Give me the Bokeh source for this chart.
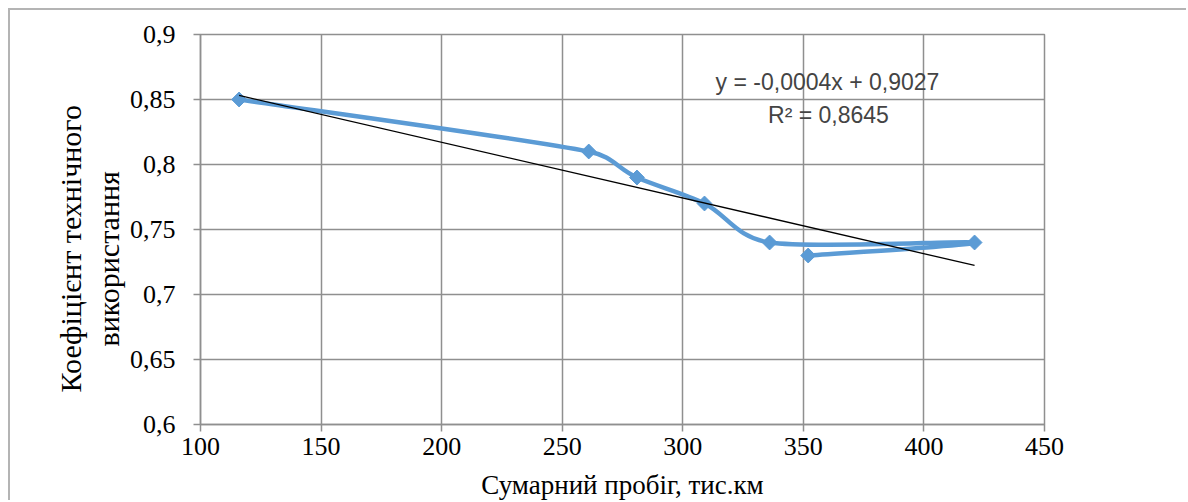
import numpy as np
from bokeh.plotting import figure
from bokeh.models import Label, Title, FixedTicker, CustomJSTickFormatter, Range1d
from bokeh.embed import file_html
from bokeh.resources import INLINE

# Total mileage (thousand km) and technical utilisation coefficient, in plotting order
mileage = [116, 261, 281, 309, 336, 421, 352]
coef = [0.85, 0.81, 0.79, 0.77, 0.74, 0.74, 0.73]

x_ticks = [100, 150, 200, 250, 300, 350, 400, 450]
y_ticks = [0.6, 0.65, 0.7, 0.75, 0.8, 0.85, 0.9]

x_title = "Сумарний пробіг, тис.км"
y_title_lines = ["Коефіцієнт технічного", "використання"]
trend_eq = "y = -0,0004x + 0,9027"
trend_r2 = "R² = 0,8645"

SERIES = "#5B9BD5"
GRID = "#8f8f8f"
SERIF = "Liberation Serif"
FRAME_W, FRAME_H = 844, 391

p = figure(width=1178, height=492, output_backend="svg", toolbar_location=None,
           x_range=Range1d(100, 450), y_range=Range1d(0.6, 0.9),
           min_border_left=190, min_border_right=144, min_border_top=24,
           min_border_bottom=77)
p.styles = {"margin-left": "8px", "margin-top": "8px",
            "border-left": "2px solid #b4b4b4", "border-top": "2px solid #b4b4b4"}
p.outline_line_color = GRID
p.outline_line_width = 1.5
p.background_fill_color = "white"
p.border_fill_color = "white"

# axes
p.xaxis.ticker = FixedTicker(ticks=x_ticks)
p.yaxis.ticker = FixedTicker(ticks=y_ticks)
comma = CustomJSTickFormatter(code="return String(Math.round(tick*100)/100).replace('.', ',');")
p.xaxis.formatter = comma
p.yaxis.formatter = comma
for ax in (p.xaxis[0], p.yaxis[0]):
    ax.axis_line_color = GRID
    ax.axis_line_width = 1.5
    ax.major_tick_line_color = GRID
    ax.major_tick_line_width = 1.5
    ax.major_tick_out = 7
    ax.major_tick_in = 0
    ax.minor_tick_line_color = None
    ax.major_label_text_font = SERIF
    ax.major_label_text_font_size = "26px"
    ax.major_label_text_color = "black"
p.xaxis[0].major_label_standoff = 6
p.yaxis[0].major_label_standoff = 18

p.xaxis[0].axis_label = x_title
p.xaxis[0].axis_label_text_font = SERIF
p.xaxis[0].axis_label_text_font_size = "27px"
p.xaxis[0].axis_label_text_font_style = "normal"
p.xaxis[0].axis_label_text_color = "black"
p.xaxis[0].axis_label_standoff = 12

for g in (p.xgrid, p.ygrid):
    g.grid_line_color = GRID
    g.grid_line_width = 1.5

# y-axis title, two lines stacked outward from the axis
for line, off, gap in ((y_title_lines[1], 78, 4), (y_title_lines[0], 32, 1)):
    p.add_layout(Title(text=line, align="left", offset=off, text_font=SERIF,
                       text_font_size="30px", text_font_style="normal",
                       text_color="black", standoff=gap), "left")

# smoothed series: cubic Bezier segments, tangents limited by segment length
sx = FRAME_W / 350.0
sy = FRAME_H / 0.3
xs = np.array(mileage, dtype=float)
ys = np.array(coef, dtype=float)
P = np.column_stack([xs * sx, ys * sy])
Pe = np.vstack([P[:1], P, P[-1:]])
tang = (Pe[2:] - Pe[:-2]) / 6.0
seg = np.linalg.norm(P[1:] - P[:-1], axis=1)
tn = np.linalg.norm(tang, axis=1)

def scaled(t, tlen, L):
    f = np.minimum(1.0, 0.45 * L / np.maximum(tlen, 1e-9))
    return t * f[:, None]

c0 = P[:-1] + scaled(tang[:-1], tn[:-1], seg)
c1 = P[1:] - scaled(tang[1:], tn[1:], seg)
p.bezier(x0=xs[:-1], y0=ys[:-1], x1=xs[1:], y1=ys[1:],
         cx0=c0[:, 0] / sx, cy0=c0[:, 1] / sy, cx1=c1[:, 0] / sx, cy1=c1[:, 1] / sy,
         line_color=SERIES, line_width=4.5)
p.scatter(mileage, coef, marker="square", angle=np.pi / 4, size=10.5,
          fill_color=SERIES, line_color=SERIES)

# linear least-squares trend line
slope, intercept = np.polyfit(xs, ys, 1)
tx = np.array([xs.min(), xs.max()])
p.line(tx, slope * tx + intercept, line_color="black", line_width=1.3)

# trend equation
p.add_layout(Label(x=627, y=343, x_units="screen", y_units="screen", text=trend_eq,
                   text_font="Liberation Sans", text_font_size="23px",
                   text_align="center", text_baseline="middle"))
p.add_layout(Label(x=628, y=310, x_units="screen", y_units="screen", text=trend_r2,
                   text_font="Liberation Sans", text_font_size="23px",
                   text_align="center", text_baseline="middle"))

open("out.html", "w").write(file_html(p, INLINE))
